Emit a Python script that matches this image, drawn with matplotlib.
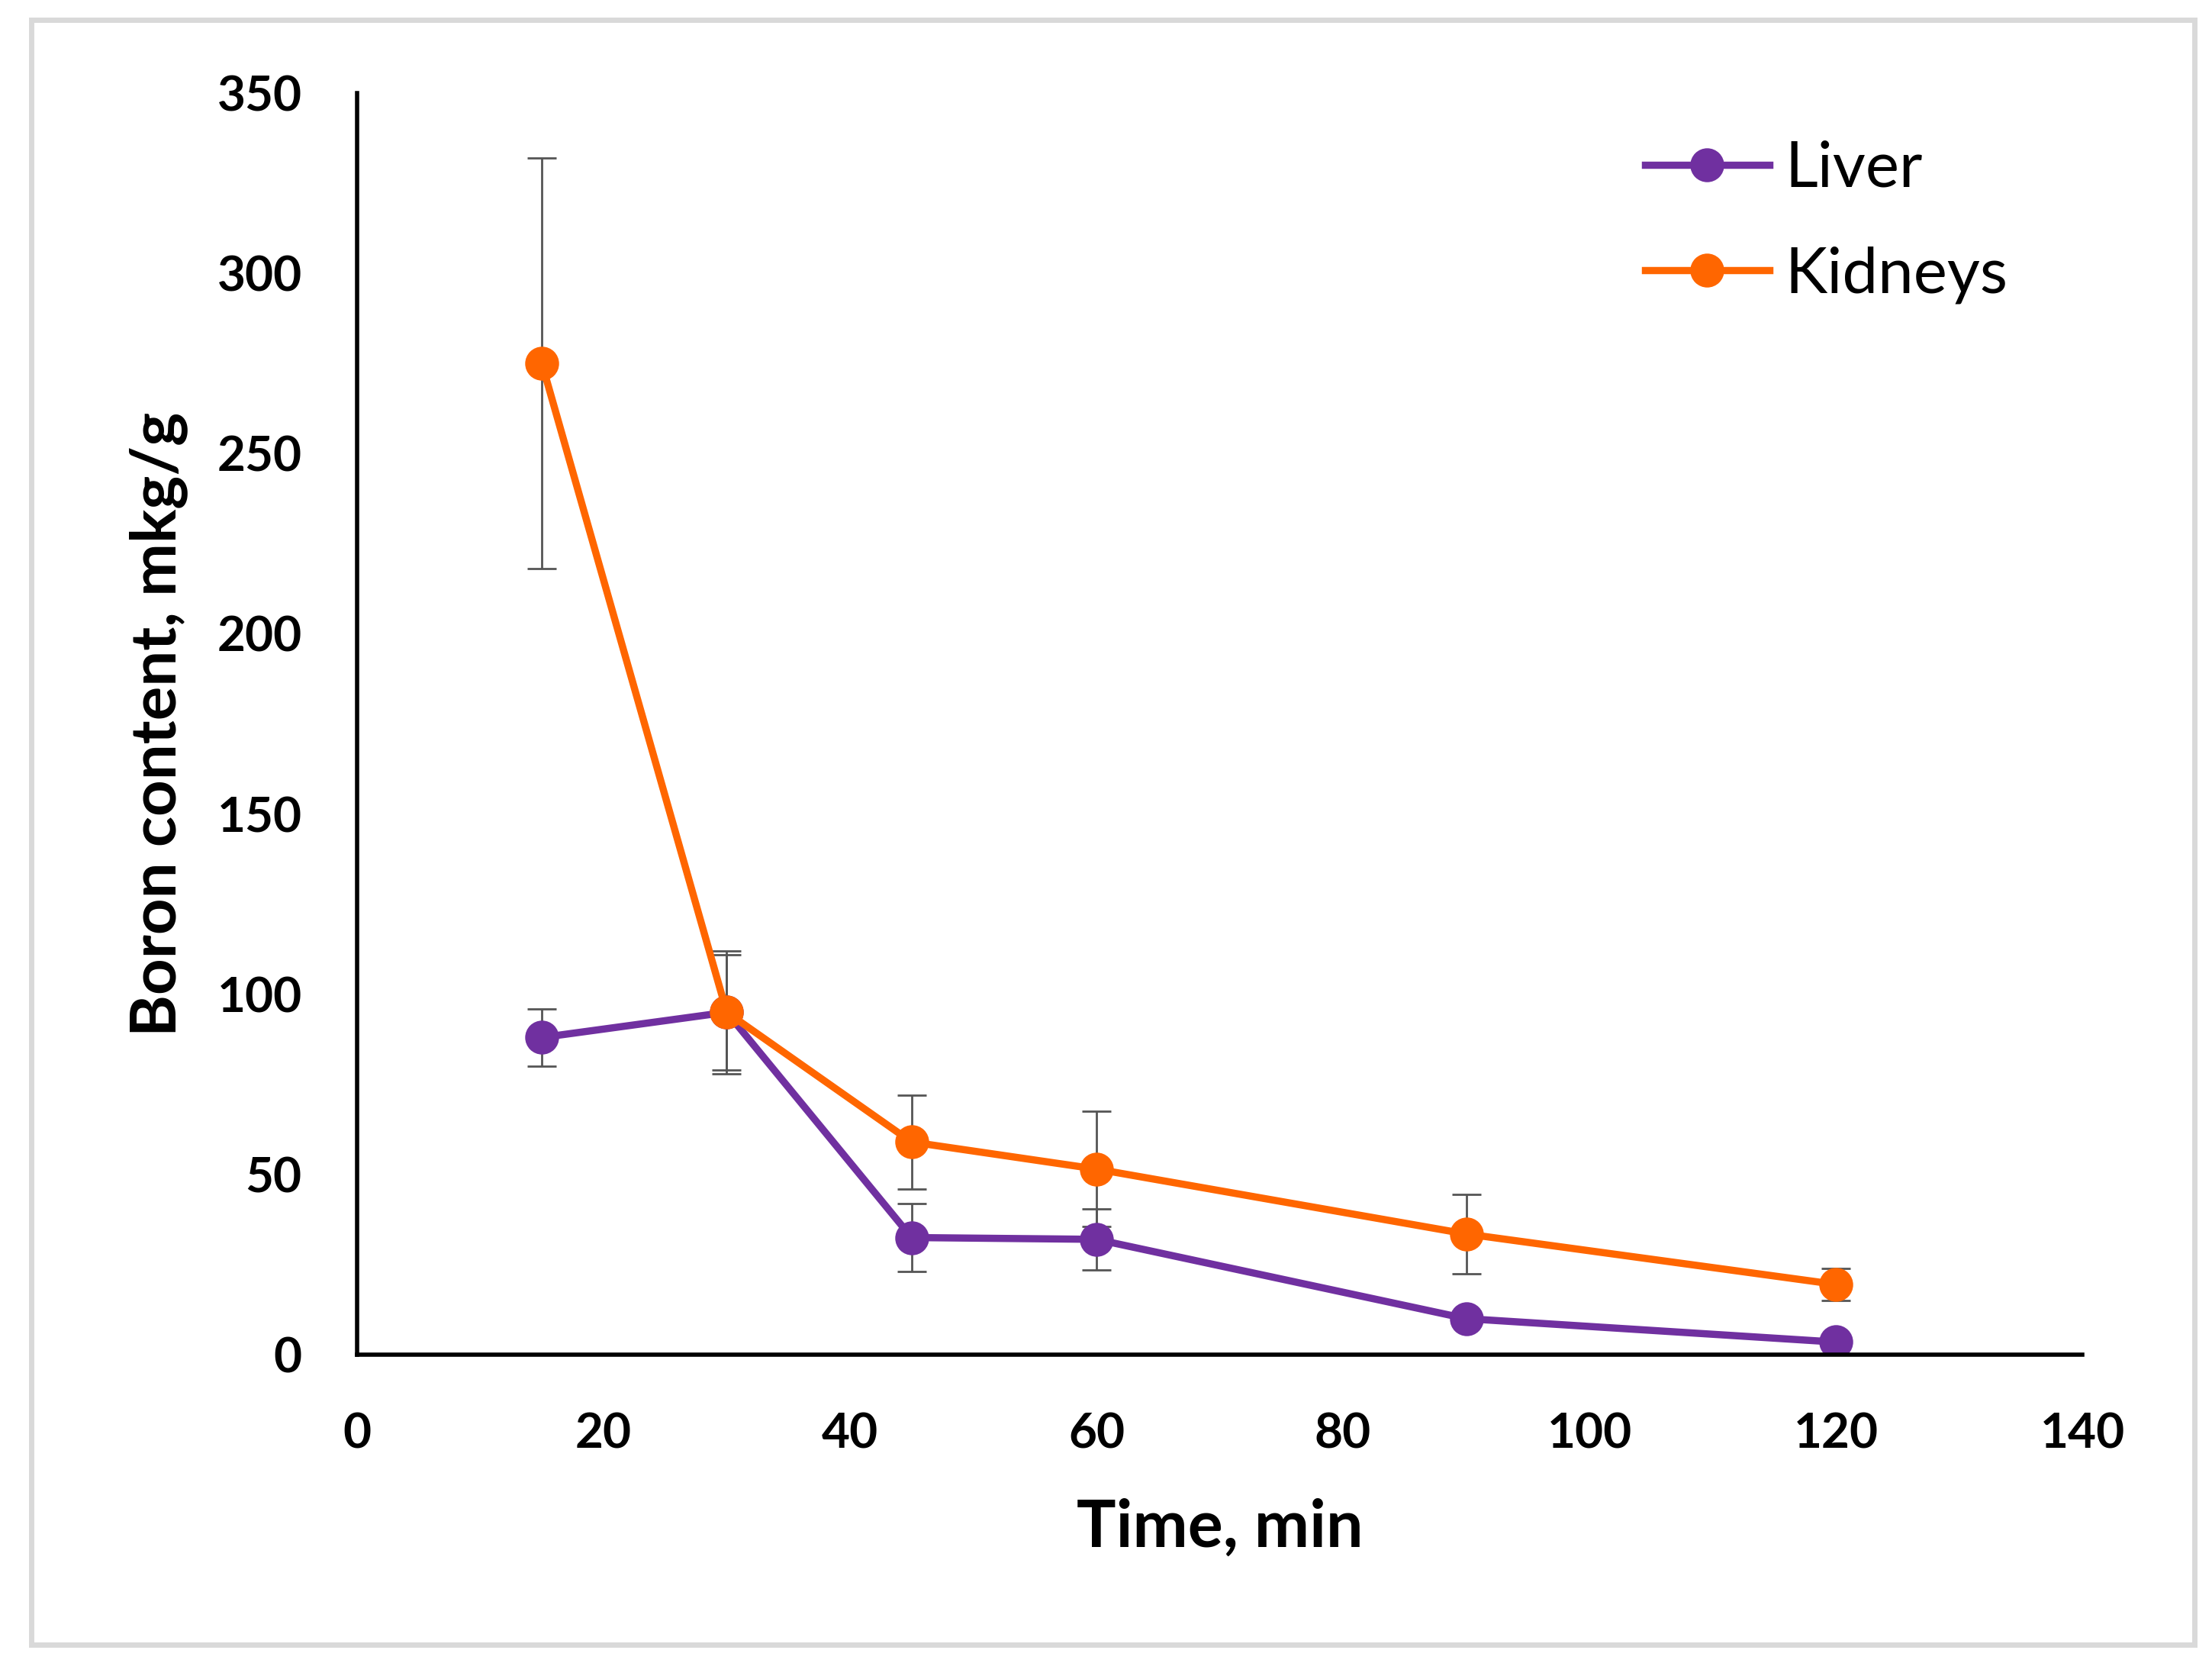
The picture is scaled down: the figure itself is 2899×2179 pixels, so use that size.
import numpy as np
import matplotlib.pyplot as plt
from matplotlib.patches import Rectangle
from matplotlib.lines import Line2D

plt.rcParams['font.family'] = ['Lato', 'DejaVu Sans']

# time points, min
time = [15, 30, 45, 60, 90, 120]

liver = [88, 95, 32.5, 32, 10, 3.5]
liver_err = [8, 16, 9.5, 8.5, 2, 1]

kidneys = [275, 95, 59, 51.5, 33.5, 19.5]
kidneys_err = [57, 17, 13, 16, 11, 4.5]

xticks = [0, 20, 40, 60, 80, 100, 120, 140]
yticks = [0, 50, 100, 150, 200, 250, 300, 350]

c_liver = '#7030A0'
c_kid = '#FF6600'

fig = plt.figure(figsize=(14.495, 10.895), dpi=200)
ax = fig.add_axes([0.1614, 0.1854, 0.78, 0.7586])

# grey frame round the whole chart
fig.patches.append(Rectangle((0.014, 0.011), 0.978, 0.977, transform=fig.transFigure,
                             fill=False, edgecolor='#d9d9d9', linewidth=2.5))

err_kw = dict(ecolor='#555555', elinewidth=1.0, capsize=7, capthick=1.0)
ax.errorbar(time, liver, yerr=liver_err, fmt='o-', color=c_liver, lw=3.4,
            ms=15, **err_kw)
ax.errorbar(time, kidneys, yerr=kidneys_err, fmt='o-', color=c_kid, lw=3.4,
            ms=15, **err_kw)

ax.set_xlim(0, 140)
ax.set_ylim(0, 350)
ax.set_xticks(xticks)
ax.set_yticks(yticks)
ax.tick_params(length=0, labelsize=23)
ax.tick_params(axis='x', pad=27)
ax.tick_params(axis='y', pad=26)
for lab in ax.get_xticklabels() + ax.get_yticklabels():
    lab.set_fontweight('bold')

for s in ['top', 'right']:
    ax.spines[s].set_visible(False)
for s in ['left', 'bottom']:
    ax.spines[s].set_linewidth(2)
    ax.spines[s].set_color('black')

ax.set_xlabel('Time, min', fontsize=31, fontweight='bold', labelpad=20)
ax.set_ylabel('Boron content, mkg/g', fontsize=30, fontweight='bold', labelpad=14)

handles = [Line2D([], [], color=c_liver, lw=3.4, marker='o', ms=15),
           Line2D([], [], color=c_kid, lw=3.4, marker='o', ms=15)]
ax.legend(handles, ['Liver', 'Kidneys'], loc='upper right', bbox_to_anchor=(0.99, 1.008),
          frameon=False, fontsize=30, handlelength=1.95, handletextpad=0.25,
          labelspacing=0.75)

fig.savefig('out.png', dpi=200)
